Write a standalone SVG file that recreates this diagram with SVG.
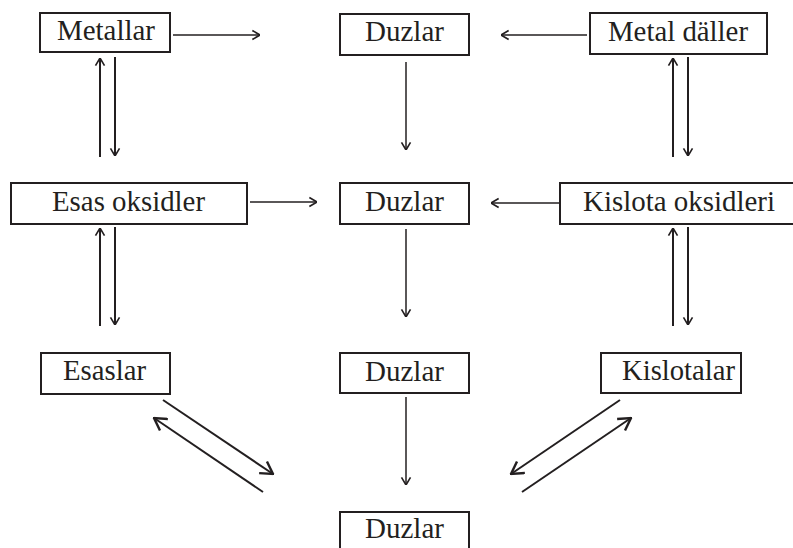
<svg xmlns="http://www.w3.org/2000/svg" width="793" height="548" viewBox="0 0 793 548">
<style>
.box{fill:#fff;stroke:#231f20;stroke-width:2}
.lbl{font-family:"Liberation Serif","Times New Roman",serif;font-size:29px;fill:#231f20}
.c{stroke:#231f20;stroke-width:1.5;fill:none}
.c2{stroke:#231f20;stroke-width:2;fill:none}
</style>
<defs>
<marker id="ah" markerUnits="userSpaceOnUse" viewBox="0 0 10 12" refX="9.5" refY="6" markerWidth="9" markerHeight="12" orient="auto">
<path d="M1,1 L9.5,6 L1,11" fill="none" stroke="#231f20" stroke-width="1.8"/>
</marker>
<marker id="ahb" markerUnits="userSpaceOnUse" viewBox="0 0 14 16" refX="13" refY="8" markerWidth="14" markerHeight="16" orient="auto">
<path d="M1,1 L13,8 L1,15" fill="none" stroke="#231f20" stroke-width="2.4"/>
</marker>
</defs>
<g id="connectors">
<line class="c" x1="173" y1="35" x2="260" y2="35" marker-end="url(#ah)"/>
<line class="c" x1="587" y1="35" x2="501" y2="35" marker-end="url(#ah)"/>
<line class="c" x1="406" y1="62" x2="406" y2="150" marker-end="url(#ah)"/>
<line class="c2" x1="100" y1="157" x2="100" y2="58" marker-end="url(#ah)"/>
<line class="c2" x1="115" y1="57" x2="115" y2="156" marker-end="url(#ah)"/>
<line class="c2" x1="673" y1="157" x2="673" y2="58" marker-end="url(#ah)"/>
<line class="c2" x1="688" y1="57" x2="688" y2="156" marker-end="url(#ah)"/>
<line class="c" x1="250" y1="202" x2="317" y2="202" marker-end="url(#ah)"/>
<line class="c" x1="560" y1="203" x2="491" y2="203" marker-end="url(#ah)"/>
<line class="c" x1="406" y1="229" x2="406" y2="317" marker-end="url(#ah)"/>
<line class="c2" x1="100" y1="326" x2="100" y2="228" marker-end="url(#ah)"/>
<line class="c2" x1="115" y1="227" x2="115" y2="325" marker-end="url(#ah)"/>
<line class="c2" x1="673" y1="326" x2="673" y2="228" marker-end="url(#ah)"/>
<line class="c2" x1="688" y1="227" x2="688" y2="325" marker-end="url(#ah)"/>
<line class="c" x1="406" y1="397" x2="406" y2="485" marker-end="url(#ah)"/>
<line class="c2" x1="163" y1="400" x2="273" y2="474" marker-end="url(#ahb)"/>
<line class="c2" x1="263" y1="492" x2="154" y2="418" marker-end="url(#ahb)"/>
<line class="c2" x1="620" y1="400" x2="511" y2="474" marker-end="url(#ahb)"/>
<line class="c2" x1="522" y1="492" x2="631" y2="418" marker-end="url(#ahb)"/>
</g>
<g id="metallar"><rect class="box" x="40" y="13" width="130" height="39"/><text class="lbl" x="57" y="40" textLength="98" lengthAdjust="spacingAndGlyphs">Metallar</text></g>
<g id="duzlar1"><rect class="box" x="340" y="14" width="129" height="41"/><text class="lbl" x="365" y="41" textLength="79" lengthAdjust="spacingAndGlyphs">Duzlar</text></g>
<g id="metal-daller"><rect class="box" x="590" y="13" width="177" height="41"/><text class="lbl" x="608" y="41" textLength="140" lengthAdjust="spacingAndGlyphs">Metal däller</text></g>
<g id="esas-oksidler"><rect class="box" x="11" y="183" width="236" height="41"/><text class="lbl" x="52" y="211" textLength="153" lengthAdjust="spacingAndGlyphs">Esas oksidler</text></g>
<g id="duzlar2"><rect class="box" x="340" y="183" width="129" height="41"/><text class="lbl" x="365" y="211" textLength="79" lengthAdjust="spacingAndGlyphs">Duzlar</text></g>
<g id="kislota-oksidleri"><rect class="box" x="560" y="183" width="240" height="41"/><text class="lbl" x="583" y="211" textLength="192" lengthAdjust="spacingAndGlyphs">Kislota oksidleri</text></g>
<g id="esaslar"><rect class="box" x="41" y="353" width="129" height="41"/><text class="lbl" x="63" y="380" textLength="83" lengthAdjust="spacingAndGlyphs">Esaslar</text></g>
<g id="duzlar3"><rect class="box" x="340" y="353" width="129" height="40"/><text class="lbl" x="365" y="381" textLength="79" lengthAdjust="spacingAndGlyphs">Duzlar</text></g>
<g id="kislotalar"><rect class="box" x="601" y="353" width="140" height="40"/><text class="lbl" x="622" y="380" textLength="113" lengthAdjust="spacingAndGlyphs">Kislotalar</text></g>
<g id="duzlar4"><rect class="box" x="340" y="512" width="129" height="42"/><text class="lbl" x="365" y="538" textLength="79" lengthAdjust="spacingAndGlyphs">Duzlar</text></g>
</svg>
